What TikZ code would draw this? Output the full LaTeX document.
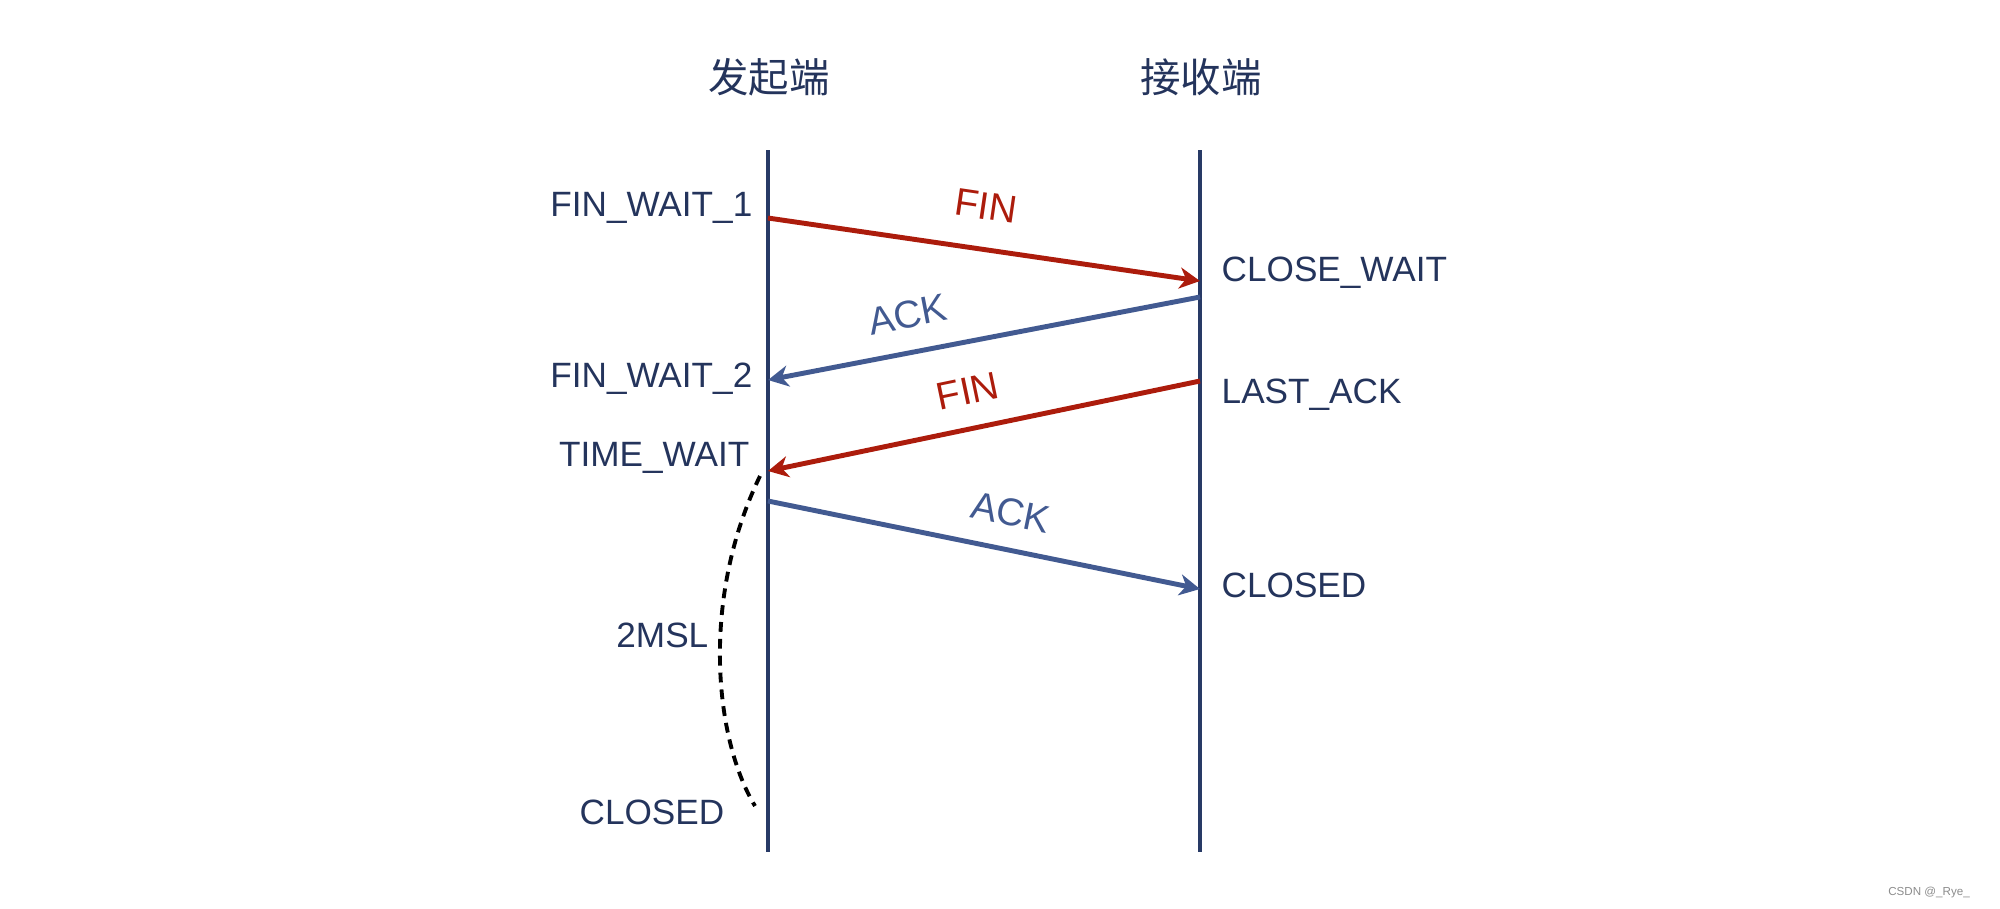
\documentclass[tikz,border=0pt]{standalone}
\usepackage{fontspec}
\setmainfont{Liberation Sans}
\newfontfamily\cjkfont{Noto Sans CJK SC}
\usepackage{tikz}
\usetikzlibrary{arrows.meta}
\definecolor{navy}{RGB}{36,52,92}
\definecolor{linenavy}{RGB}{40,58,102}
\definecolor{finred}{RGB}{172,28,12}
\definecolor{ackblue}{RGB}{66,90,145}
\tikzstyle{lifeline} = [draw=linenavy, line width=1.1pt]
\tikzstyle{msg} = [line width=1.4pt, -{Stealth[length=5.8pt, width=6pt, inset=1.8pt]}]
\tikzstyle{state} = [text=navy, inner sep=0pt, font=\fontsize{10}{12}\selectfont]
\tikzstyle{head} = [text=navy, inner sep=0pt, font=\cjkfont\fontsize{11.5}{13}\selectfont]
\tikzstyle{msglabel} = [inner sep=0pt, sloped, font=\fontsize{11}{12}\selectfont]

\begin{document}
\begin{tikzpicture}[x=0.01cm, y=-0.01cm]
	\useasboundingbox (0,0) rectangle (2000,908);
	
	\node[head] (Head-A) at (769,77) {发起端};
	\node[head] (Head-B) at (1201,77) {接收端};
	
	\coordinate (Line-A-top) at (768,150);
	\coordinate (Line-A-bot) at (768,852);
	\coordinate (Line-B-top) at (1200,150);
	\coordinate (Line-B-bot) at (1200,852);
	\draw[lifeline] (Line-A-top) -- (Line-A-bot);
	\draw[lifeline] (Line-B-top) -- (Line-B-bot);
	
	\coordinate (A1) at (768,218);
	\coordinate (B1) at (1200,281);
	\coordinate (B2) at (1200,297);
	\coordinate (A2) at (768,380);
	\coordinate (B3) at (1200,381);
	\coordinate (A3) at (768,471);
	\coordinate (A4) at (768,501);
	\coordinate (B4) at (1200,589);
	
	\draw[msg, draw=finred] (A1) -- node[msglabel, text=finred, pos=0.49, above=7.8pt] (Lbl-FIN1) {FIN} (B1);
	\draw[msg, draw=ackblue] (B2) -- node[msglabel, text=ackblue, pos=0.66, above=6.2pt] (Lbl-ACK1) {ACK} (A2);
	\draw[msg, draw=finred] (B3) -- node[msglabel, text=finred, pos=0.52, above=6.2pt] (Lbl-FIN2) {FIN} (A3);
	\draw[msg, draw=ackblue] (A4) -- node[msglabel, text=ackblue, pos=0.545, above=6pt] (Lbl-ACK2) {ACK} (B4);
	
	\node[state, anchor=east] (St-FW1) at (753,208) {FIN\_WAIT\_1};
	\node[state, anchor=east] (St-FW2) at (753,379) {FIN\_WAIT\_2};
	\node[state, anchor=east] (St-TW) at (750,458) {TIME\_WAIT};
	\node[state, anchor=east] (St-2MSL) at (709,635) {2MSL};
	\node[state, anchor=east] (St-CL-A) at (725,812) {CLOSED};
	
	\node[state, anchor=west] (St-CW) at (1221,273) {CLOSE\_WAIT};
	\node[state, anchor=west] (St-LA) at (1221,395) {LAST\_ACK};
	\node[state, anchor=west] (St-CL-B) at (1221,585) {CLOSED};
	
	\coordinate (MSL-top) at (760,476);
	\coordinate (MSL-bot) at (755,806);
	\draw[line width=1.1pt, dash pattern=on 2.8pt off 2pt] (MSL-top) .. controls (700,600) and (715,740) .. (MSL-bot);
	
	\node[inner sep=0pt, text=black!45, font=\fontsize{3.3}{4}\selectfont] (Mark) at (1929,892) {CSDN @\_Rye\_};
\end{tikzpicture}
\end{document}
